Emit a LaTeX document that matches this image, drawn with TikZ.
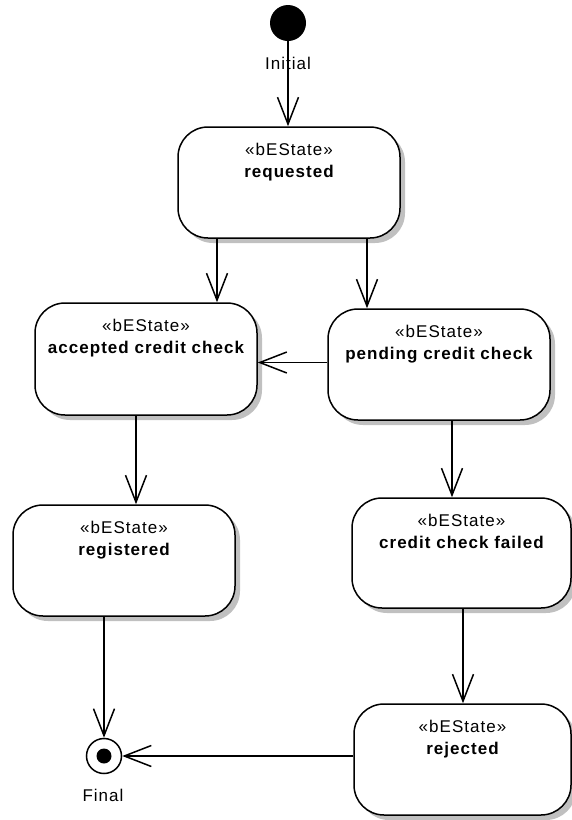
\documentclass[tikz,border=0pt]{standalone}
\usepackage{fontspec}
\setmainfont{Liberation Sans}[LetterSpace=6]
\usetikzlibrary{arrows.meta,shadows}

\definecolor{shadowgray}{RGB}{192,192,192}

\tikzset{
  state/.style={draw=black, line width=1.5pt, fill=white, rounded corners=30pt,
    minimum width=222pt, minimum height=111pt, inner sep=0pt,
    general shadow={fill=shadowgray, shadow xshift=5pt, shadow yshift=-5pt}},
  stereo/.style={anchor=base, inner sep=0pt, font=\fontsize{17}{20}\selectfont},
  title/.style={anchor=base, inner sep=0pt, font=\fontsize{17}{20}\selectfont\bfseries},
  caption/.style={anchor=base, inner sep=0pt, font=\fontsize{17}{20}\selectfont},
  arr/.style={draw=black, line width=1.5pt,
    -{Straight Barb[length=27pt, width=21pt, line width=1.5pt]}},
}

% a state box: name, left x, top y, right x, bottom y, title
\newcommand\stbox[6]{%
  \node[state, minimum width={#4-#2}, minimum height={#3-#5}]
    (#1) at ({(#2+#4)/2},{(#3+#5)/2}) {};
  \node[stereo] (#1-s) at ([yshift=-29.7pt]#1.north) {«bEState»};
  \node[title] (#1-t) at ([yshift=-51pt]#1.north) {#6};
}

\begin{document}
\begin{tikzpicture}[x=1pt, y=1pt]
  \useasboundingbox (0,0) rectangle (571,-820);

  % initial pseudo-state
  \node[circle, fill=black, minimum size=36pt, inner sep=0pt] (init) at (288,-23) {};
  \node[caption] (initlbl) at (288,-69.3) {Initial};

  % states
  \stbox{req}{178}{-127}{400}{-238}{requested}
  \stbox{acc}{35}{-303}{257}{-415}{accepted credit check}
  \stbox{pend}{328}{-309}{550}{-420}{pending credit check}
  \stbox{reg}{13}{-505}{235}{-616}{registered}
  \stbox{cred}{352}{-498}{571}{-608}{credit check failed}
  \stbox{rej}{354}{-704}{571}{-815}{rejected}

  % final state
  \node[circle, draw=black, line width=1.5pt, fill=white, minimum size=35pt, inner sep=0pt] (fin) at (104,-756) {};
  \node[circle, fill=black, minimum size=15pt, inner sep=0pt] (fincore) at (fin) {};
  \node[caption] (finlbl) at (103,-801.7) {Final};

  % transitions
  \draw[arr] (init) -- (req.north -| init);

  \coordinate (ra) at ([xshift=-72pt]req.south);
  \draw[arr] (ra) -- (acc.north -| ra);

  \coordinate (rp) at ([xshift=78pt]req.south);
  \draw[arr] (rp) -- (pend.north -| rp);

  \coordinate (pw) at ([yshift=2pt]pend.west);
  \draw[arr] (pw) -- (acc.east |- pw);

  \coordinate (ar) at ([xshift=-10pt]acc.south);
  \draw[arr] (ar) -- (reg.north -| ar);

  \coordinate (pc) at ([xshift=13pt]pend.south);
  \draw[arr] (pc) -- (cred.north -| pc);

  \coordinate (cr) at ([xshift=1.5pt]cred.south);
  \draw[arr] (cr) -- (rej.north -| cr);

  \draw[arr] (reg.south -| fin) -- (fin.north);
  \draw[arr] (rej.west |- fin) -- (fin.east);
\end{tikzpicture}
\end{document}
